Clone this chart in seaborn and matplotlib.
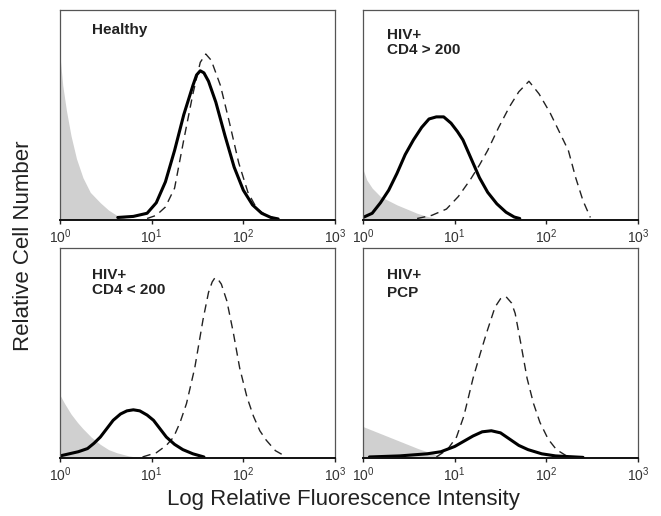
import seaborn as sns
import matplotlib.pyplot as plt

# x values are log10 of the relative fluorescence (0..3 decades), y is % of panel height

# Healthy
healthy_fill_x = [0.0, 0.03, 0.07, 0.12, 0.18, 0.25, 0.33, 0.44, 0.53, 0.62, 0.72, 0.80]
healthy_fill_y = [78, 64, 52, 40, 29, 20, 13, 8, 4.5, 2, 0.5, 0]
healthy_solid_x = [0.63, 0.80, 0.95, 1.05, 1.15, 1.25, 1.35, 1.45, 1.49, 1.53, 1.57, 1.62, 1.70, 1.80, 1.90, 2.00, 2.10, 2.20, 2.30, 2.38]
healthy_solid_y = [1, 1.5, 3, 8, 18, 33, 50, 64, 69, 71, 70, 66, 56, 40, 25, 14, 7, 3, 1, 0.3]
healthy_dash_x = [0.95, 1.05, 1.15, 1.25, 1.35, 1.45, 1.53, 1.59, 1.65, 1.75, 1.85, 1.95, 2.05, 2.15, 2.25, 2.35]
healthy_dash_y = [0.5, 2, 6, 15, 38, 60, 75, 79, 76, 64, 46, 27, 13, 5, 2, 0.5]

# HIV+ CD4 > 200
high_fill_x = [0.0, 0.04, 0.10, 0.19, 0.28, 0.37, 0.48, 0.59, 0.70, 0.84]
high_fill_y = [24, 19, 15, 11, 9, 7, 5, 3, 1.5, 0]
high_solid_x = [0.0, 0.10, 0.19, 0.28, 0.37, 0.46, 0.55, 0.64, 0.72, 0.80, 0.88, 0.96, 1.03, 1.09, 1.18, 1.27, 1.36, 1.46, 1.56, 1.65, 1.71]
high_solid_y = [1, 3, 8, 14, 22, 31, 38, 44, 48, 49, 49, 46, 42, 38, 29, 20, 13, 7.5, 3.5, 1.2, 0.5]
high_dash_x = [0.59, 0.75, 0.91, 1.04, 1.17, 1.27, 1.36, 1.48, 1.60, 1.70, 1.81, 1.92, 2.04, 2.14, 2.24, 2.32, 2.40, 2.48]
high_dash_y = [0.5, 2, 5, 11, 19, 26, 33, 44, 54, 61, 66, 60, 51, 42, 33, 20, 9, 1]

# HIV+ CD4 < 200
low_fill_x = [0.0, 0.05, 0.12, 0.19, 0.25, 0.34, 0.44, 0.53, 0.62, 0.75, 0.90]
low_fill_y = [30, 26, 21, 17, 14, 10, 6.5, 4, 2.5, 1, 0]
low_solid_x = [0.0, 0.10, 0.20, 0.30, 0.37, 0.44, 0.51, 0.58, 0.66, 0.73, 0.80, 0.87, 0.95, 1.02, 1.09, 1.16, 1.25, 1.34, 1.45, 1.57]
low_solid_y = [1, 2, 3, 4.5, 7, 10, 14, 18, 21, 22.5, 23, 22.5, 20.5, 18, 14, 10, 6.5, 4, 2, 0.5]
low_dash_x = [0.90, 1.05, 1.16, 1.24, 1.31, 1.38, 1.47, 1.56, 1.62, 1.66, 1.69, 1.72, 1.76, 1.82, 1.89, 1.96, 2.04, 2.11, 2.18, 2.25, 2.35, 2.47]
low_dash_y = [0.5, 2.5, 6, 10, 17, 26, 43, 66, 79, 84, 86, 85.5, 83, 75, 60, 43, 29, 20, 13, 8.5, 3.5, 0.5]

# HIV+ PCP
pcp_fill_x = [0.0, 0.2, 0.4, 0.6, 0.8, 0.9]
pcp_fill_y = [15, 11.5, 8, 4.5, 1.5, 0]
pcp_solid_x = [0.07, 0.40, 0.70, 0.85, 1.00, 1.10, 1.20, 1.30, 1.40, 1.50, 1.60, 1.70, 1.80, 1.95, 2.10, 2.40]
pcp_solid_y = [0.5, 1, 2, 3, 5.5, 8, 10.5, 12.5, 13, 12, 9, 6, 4, 2, 1, 0.3]
pcp_dash_x = [0.80, 0.92, 1.02, 1.10, 1.20, 1.28, 1.35, 1.44, 1.50, 1.56, 1.62, 1.66, 1.72, 1.79, 1.86, 1.93, 2.02, 2.11, 2.22]
pcp_dash_y = [0.5, 4, 10, 20, 38, 50, 60, 72, 76, 77, 74, 69, 55, 38, 26, 17, 9, 4, 1]

panel_titles = [["Healthy"], ["HIV+", "CD4 > 200"], ["HIV+", "CD4 < 200"], ["HIV+", "PCP"]]
tick_pos = [0, 1, 2, 3]
tick_text = [r"$\mathregular{10^{0}}$", r"$\mathregular{10^{1}}$", r"$\mathregular{10^{2}}$", r"$\mathregular{10^{3}}$"]

sns.set_theme(style="white")
plt.rcParams["font.family"] = ["Liberation Sans", "DejaVu Sans"]
plt.rcParams["mathtext.fontset"] = "custom"
plt.rcParams["mathtext.rm"] = "Liberation Sans"

fig, axes = plt.subplots(2, 2, figsize=(6.61, 5.16), dpi=100)
fig.subplots_adjust(left=0.0908, right=0.9652, top=0.9806, bottom=0.1124, wspace=0.102, hspace=0.138)

panels = [
    (healthy_fill_x, healthy_fill_y, healthy_solid_x, healthy_solid_y, healthy_dash_x, healthy_dash_y),
    (high_fill_x, high_fill_y, high_solid_x, high_solid_y, high_dash_x, high_dash_y),
    (low_fill_x, low_fill_y, low_solid_x, low_solid_y, low_dash_x, low_dash_y),
    (pcp_fill_x, pcp_fill_y, pcp_solid_x, pcp_solid_y, pcp_dash_x, pcp_dash_y),
]
title_x = [0.116, 0.087, 0.116, 0.087]
title_y = [[0.886], [0.860, 0.790], [0.856, 0.785], [0.856, 0.766]]

for i, ax in enumerate(axes.flat):
    fx, fy, sx, sy, dx, dy = panels[i]
    ax.fill_between(fx, fy, 0, color="#d0d0d0", lw=0)
    sns.lineplot(x=dx, y=dy, ax=ax, color="#222222", lw=1.0, sort=False)
    ax.lines[-1].set_dashes((6, 4))
    sns.lineplot(x=sx, y=sy, ax=ax, color="black", lw=2.2, sort=False)

    ax.set_xlim(0, 3)
    ax.set_ylim(0, 100)
    ax.set_yticks([])
    ax.set_xticks(tick_pos, labels=tick_text)
    ax.tick_params(axis="x", direction="out", length=3, width=1, color="#222222",
                   labelsize=10, labelcolor="#333333", pad=2.5, bottom=True)
    ax.set_xlabel("")
    ax.set_ylabel("")
    for side in ["top", "right", "left"]:
        ax.spines[side].set_color("#555555")
        ax.spines[side].set_linewidth(0.9)
    ax.spines["bottom"].set_color("#111111")
    ax.spines["bottom"].set_linewidth(1.4)

    for line, yy in zip(panel_titles[i], title_y[i]):
        ax.text(title_x[i], yy, line, transform=ax.transAxes, fontsize=11,
                fontweight="bold", color="#222222", va="baseline", ha="left")

fig.text(0.520, 0.021, "Log Relative Fluorescence Intensity", fontsize=16,
         color="#222222", ha="center", va="baseline")
fig.text(0.036, 0.523, "Relative Cell Number", fontsize=16, color="#222222",
         rotation=90, ha="center", va="center")

fig.savefig("out.png", dpi=100)
